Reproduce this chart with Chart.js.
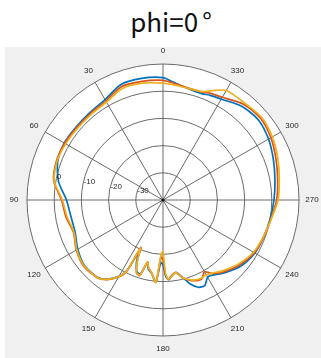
<!DOCTYPE html>
<html>
<head>
<meta charset="utf-8">
<script src="https://cdn.jsdelivr.net/npm/chart.js@4.4.1/dist/chart.umd.min.js"></script>
<style>
  body { margin: 0; background: #fff; }
  #bg { position: absolute; left: 5px; top: 47px; width: 316px; height: 311px; background: #f0f0f0; }
  #title { position: absolute; left: 0; top: 2px; width: 342px; text-align: center;
           font: 26px "Noto Sans CJK SC", "Noto Sans", sans-serif; color: #111; }
  #title span { margin-left: 4px; }
  canvas { position: absolute; left: 0; top: 0; }
</style>
</head>
<body>
<div id="bg"></div>
<div id="title">phi=0<span>°</span></div>
<canvas id="polar" width="321" height="358"></canvas>
<script>
// angles in degrees (counter-clockwise from top) and gain in dB
const angles = [0, 10, 20, 30, 40, 50, 60, 70, 80, 90, 100, 110, 120, 130, 140, 145, 150, 153, 155, 157,
    160, 163, 166, 168, 171, 175, 178, 180, 182, 184, 187, 190, 194, 198, 202, 206, 210, 214, 220,
    230, 240, 250, 260, 270, 280, 290, 300, 310, 320, 330, 336, 340, 350, 355];

const blueValues = [5.0, 5.4, 5.2, 2.6, 1.9, 1.7, 1.9, 1.2, -1.0, -4.5, -5.6, -5.6, -3.8, -2.4, -2.8, -4.5, -7.6, -11.0, -18.6, -15.0,
    -12.0, -11.5, -16.3, -14.0, -12.8, -9.8, -17.0, -16.0, -12.0, -10.6, -12.0, -13.0, -10.8, -7.5, -5.4, -5.0, -7.2, -6.8, -5.0,
    -2.4, -1.0, -0.6, 0.0, 0.8, 1.8, 3.2, 4.8, 5.8, 5.0, 2.8, 2.2, 1.6, 2.4, 3.5];

const orangeValues = [4.0, 4.3, 4.4, 2.0, 1.5, 1.4, 1.7, 1.7, 0.8, -2.7, -3.8, -5.0, -3.2, -2.0, -2.6, -4.3, -7.3, -10.5, -20.8, -16.0,
    -11.5, -11.0, -16.5, -14.5, -13.0, -9.6, -19.0, -18.0, -12.5, -10.8, -12.3, -12.9, -10.6, -9.0, -8.0, -7.6, -9.5, -7.4, -5.5,
    -3.0, -1.2, -0.5, 0.3, 1.8, 2.8, 4.2, 5.8, 6.8, 6.0, 3.6, 2.9, 2.2, 2.4, 3.2];

const yellowValues = [3.0, 3.6, 3.6, 1.6, 1.1, 1.0, 1.3, 1.5, 0.6, -3.0, -4.2, -5.2, -3.4, -2.2, -2.7, -4.4, -7.5, -10.8, -20.5, -16.0,
    -11.5, -11.2, -16.5, -14.5, -13.0, -9.6, -20.0, -21.0, -13.0, -10.8, -12.0, -12.9, -10.6, -9.2, -8.3, -8.0, -8.2, -7.6, -6.0,
    -3.6, -1.6, -0.7, 0.4, 2.3, 3.4, 4.9, 6.4, 7.3, 6.6, 6.5, 4.0, 2.4, 2.2, 2.6];

const rTicks = [-30, -20, -10, 0];
const angleTicks = [0, 30, 60, 90, 120, 150, 180, 210, 240, 270, 300, 330];

// one category per degree; radar runs clockwise, so label i is angle (360 - i)
const degreeLabels = [...Array(360)].map((_, i) => (360 - i) % 360);

function toSeries(values) {
    const out = new Array(360).fill(null);
    angles.forEach((a, k) => { out[(360 - a) % 360] = values[k]; });
    return out;
}

const labelPlugin = {
    id: 'polarLabels',
    afterDraw(chart) {
        const scale = chart.scales.r;
        const ctx = chart.ctx;
        ctx.save();
        ctx.fillStyle = '#262626';
        ctx.font = '8px "Liberation Sans", Arial, sans-serif';
        ctx.textAlign = 'center';
        ctx.textBaseline = 'middle';
        angleTicks.forEach(a => {
            const p = scale.getPointPosition((360 - a) % 360, scale.drawingArea + 13);
            ctx.fillText(String(a), p.x, p.y);
        });
        ctx.textAlign = 'left';
        rTicks.forEach(v => {
            const p = scale.getPointPosition(360 - 80, scale.getDistanceFromCenterForValue(v));
            ctx.fillText(String(v), p.x + 1, p.y - 4);
        });
        ctx.fillStyle = '#111';
        ctx.beginPath();
        ctx.arc(scale.xCenter, scale.yCenter, 1.6, 0, Math.PI * 2);
        ctx.fill();
        ctx.restore();
    }
};

const line = (color, values, order) => ({
    data: toSeries(values),
    borderColor: color,
    borderWidth: 1.7,
    pointRadius: 0,
    fill: false,
    tension: 0.25,
    spanGaps: true,
    order: order
});

new Chart(document.getElementById('polar'), {
    type: 'radar',
    data: {
        labels: degreeLabels,
        datasets: [
            line('#0072BD', blueValues, 2),
            line('#D95319', orangeValues, 1),
            line('#EDB120', yellowValues, 0)
        ]
    },
    options: {
        responsive: false,
        animation: false,
        layout: { padding: { left: 27, right: 21, top: 64, bottom: 21 } },
        plugins: { legend: { display: false }, tooltip: { enabled: false } },
        scales: {
            r: {
                min: -40,
                max: 10,
                backgroundColor: '#ffffff',
                ticks: { display: false, stepSize: 10 },
                grid: { circular: true, color: '#5a5a5a', lineWidth: 0.9 },
                angleLines: {
                    color: '#5a5a5a',
                    lineWidth: (c) => (c.index % 30 === 0 ? 0.9 : 0)
                },
                pointLabels: { display: false }
            }
        }
    },
    plugins: [labelPlugin]
});
</script>
</body>
</html>
